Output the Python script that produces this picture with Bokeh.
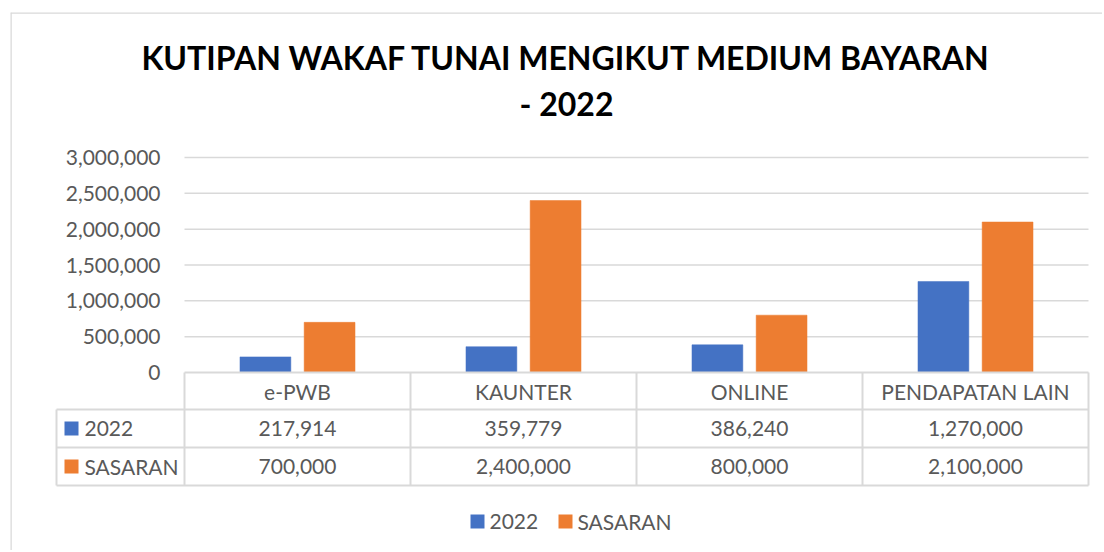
from bokeh.plotting import figure
from bokeh.models import Range1d, ColumnDataSource
from bokeh.core.properties import value
from bokeh.embed import file_html
from bokeh.resources import INLINE

# ---------------- data ----------------
title_lines = ["KUTIPAN WAKAF TUNAI MENGIKUT MEDIUM BAYARAN", "- 2022"]
categories = ["e-PWB", "KAUNTER", "ONLINE", "PENDAPATAN LAIN"]
series_names = ["2022", "SASARAN"]
values_2022 = [217914, 359779, 386240, 1270000]
values_sasaran = [700000, 2400000, 800000, 2100000]
y_ticks = [0, 500000, 1000000, 1500000, 2000000, 2500000, 3000000]
colors = ["#4472C4", "#ED7D31"]

FONT = value("Lato")
TXT = "#595959"
GRID = "#D9D9D9"
FS = "21px"

# ---------- geometry helpers (page pixel -> data) ----------
COL_PX = 226.0                 # pixels per category column
ORIG_X = 184.0                 # page x of the plot-area left edge
ORIG_Y = 372.0                 # page y of value 0
Y_PER_PX = 3000000 / 215.0     # value units per pixel


def px_x(px):
    return (px - ORIG_X) / COL_PX


def px_y(py):
    return (ORIG_Y - py) * Y_PER_PX


W, H = 1102, 550
L0, T0 = 10, 12
p = figure(width=W, height=H, output_backend="svg", toolbar_location=None,
           x_axis_type=None, y_axis_type=None,
           x_range=Range1d(px_x(L0), px_x(W)),
           y_range=Range1d(px_y(H), px_y(T0)),
           min_border_left=L0, min_border_top=T0, min_border_right=0, min_border_bottom=0)
p.grid.visible = False
p.outline_line_color = None
p.background_fill_color = "white"
p.border_fill_color = "white"

# chart border (top and left visible edges)
p.segment(x0=[px_x(L0), px_x(L0)], x1=[px_x(W), px_x(L0)],
          y0=[px_y(T0), px_y(T0)], y1=[px_y(T0), px_y(H)],
          line_color=GRID, line_width=2.5)

n = len(categories)

# ---------- title ----------
p.text(x=[px_x(566), px_x(566)], y=[px_y(57), px_y(103)], text=title_lines,
       text_font=FONT, text_font_style="bold", text_font_size="32px",
       text_color="#000000", text_align="center", text_baseline="middle")

# ---------- gridlines and y tick labels ----------
grid_y = [t for t in y_ticks if t > 0]
p.segment(x0=[0] * len(grid_y), x1=[n] * len(grid_y), y0=grid_y, y1=grid_y,
          line_color=GRID, line_width=1.5)
p.text(x=[px_x(160)] * len(y_ticks), y=y_ticks, text=[f"{t:,}" for t in y_ticks],
       text_font=FONT, text_font_size=FS, text_color=TXT,
       text_align="right", text_baseline="middle")

# ---------- bars ----------
bw = 0.225
off = 0.142
for k, (vals, col) in enumerate(zip([values_2022, values_sasaran], colors)):
    xs = [i + 0.5 + (-off if k == 0 else off) for i in range(n)]
    src = ColumnDataSource(dict(x=xs, top=vals, cat=categories))
    p.vbar(x="x", top="top", width=bw, bottom=0, source=src, fill_color=col,
           line_color=col, line_width=0.5)

# ---------- data table ----------
row_lines = [px_y(372), px_y(409), px_y(447), px_y(485)]
left_edge = px_x(56)
p.segment(x0=[0, left_edge, left_edge, left_edge], x1=[n] * 4,
          y0=row_lines, y1=row_lines, line_color=GRID, line_width=2)
vx = list(range(n + 1))
p.segment(x0=vx, x1=vx, y0=[row_lines[0]] * len(vx), y1=[row_lines[3]] * len(vx),
          line_color=GRID, line_width=2)
p.segment(x0=[left_edge], x1=[left_edge], y0=[row_lines[1]], y1=[row_lines[3]],
          line_color=GRID, line_width=2)

centers = [i + 0.5 for i in range(n)]
mid = [(row_lines[i] + row_lines[i + 1]) / 2 for i in range(3)]
p.text(x=centers, y=[mid[0]] * n, text=categories, text_font=FONT,
       text_font_size=FS, text_color=TXT, text_align="center", text_baseline="middle")
for r, vals in enumerate([values_2022, values_sasaran]):
    p.text(x=centers, y=[mid[r + 1]] * n, text=[f"{v:,}" for v in vals], text_font=FONT,
           text_font_size=FS, text_color=TXT, text_align="center", text_baseline="middle")

key_h = 14 * Y_PER_PX
for r in range(2):
    p.quad(left=[px_x(64)], right=[px_x(78)], bottom=[mid[r + 1] - key_h / 2],
           top=[mid[r + 1] + key_h / 2], fill_color=colors[r], line_color=None)
    p.text(x=[px_x(84)], y=[mid[r + 1]], text=[series_names[r]], text_font=FONT,
           text_font_size=FS, text_color=TXT, text_align="left", text_baseline="middle")

# ---------- bottom legend ----------
ly = px_y(521)
leg_x = [470, 558]
for k in range(2):
    p.quad(left=[px_x(leg_x[k])], right=[px_x(leg_x[k] + 14)], bottom=[ly - key_h / 2],
           top=[ly + key_h / 2], fill_color=colors[k], line_color=None)
    p.text(x=[px_x(leg_x[k] + 19)], y=[ly], text=[series_names[k]], text_font=FONT,
           text_font_size=FS, text_color=TXT, text_align="left", text_baseline="middle")

open("out.html", "w").write(file_html(p, INLINE))
